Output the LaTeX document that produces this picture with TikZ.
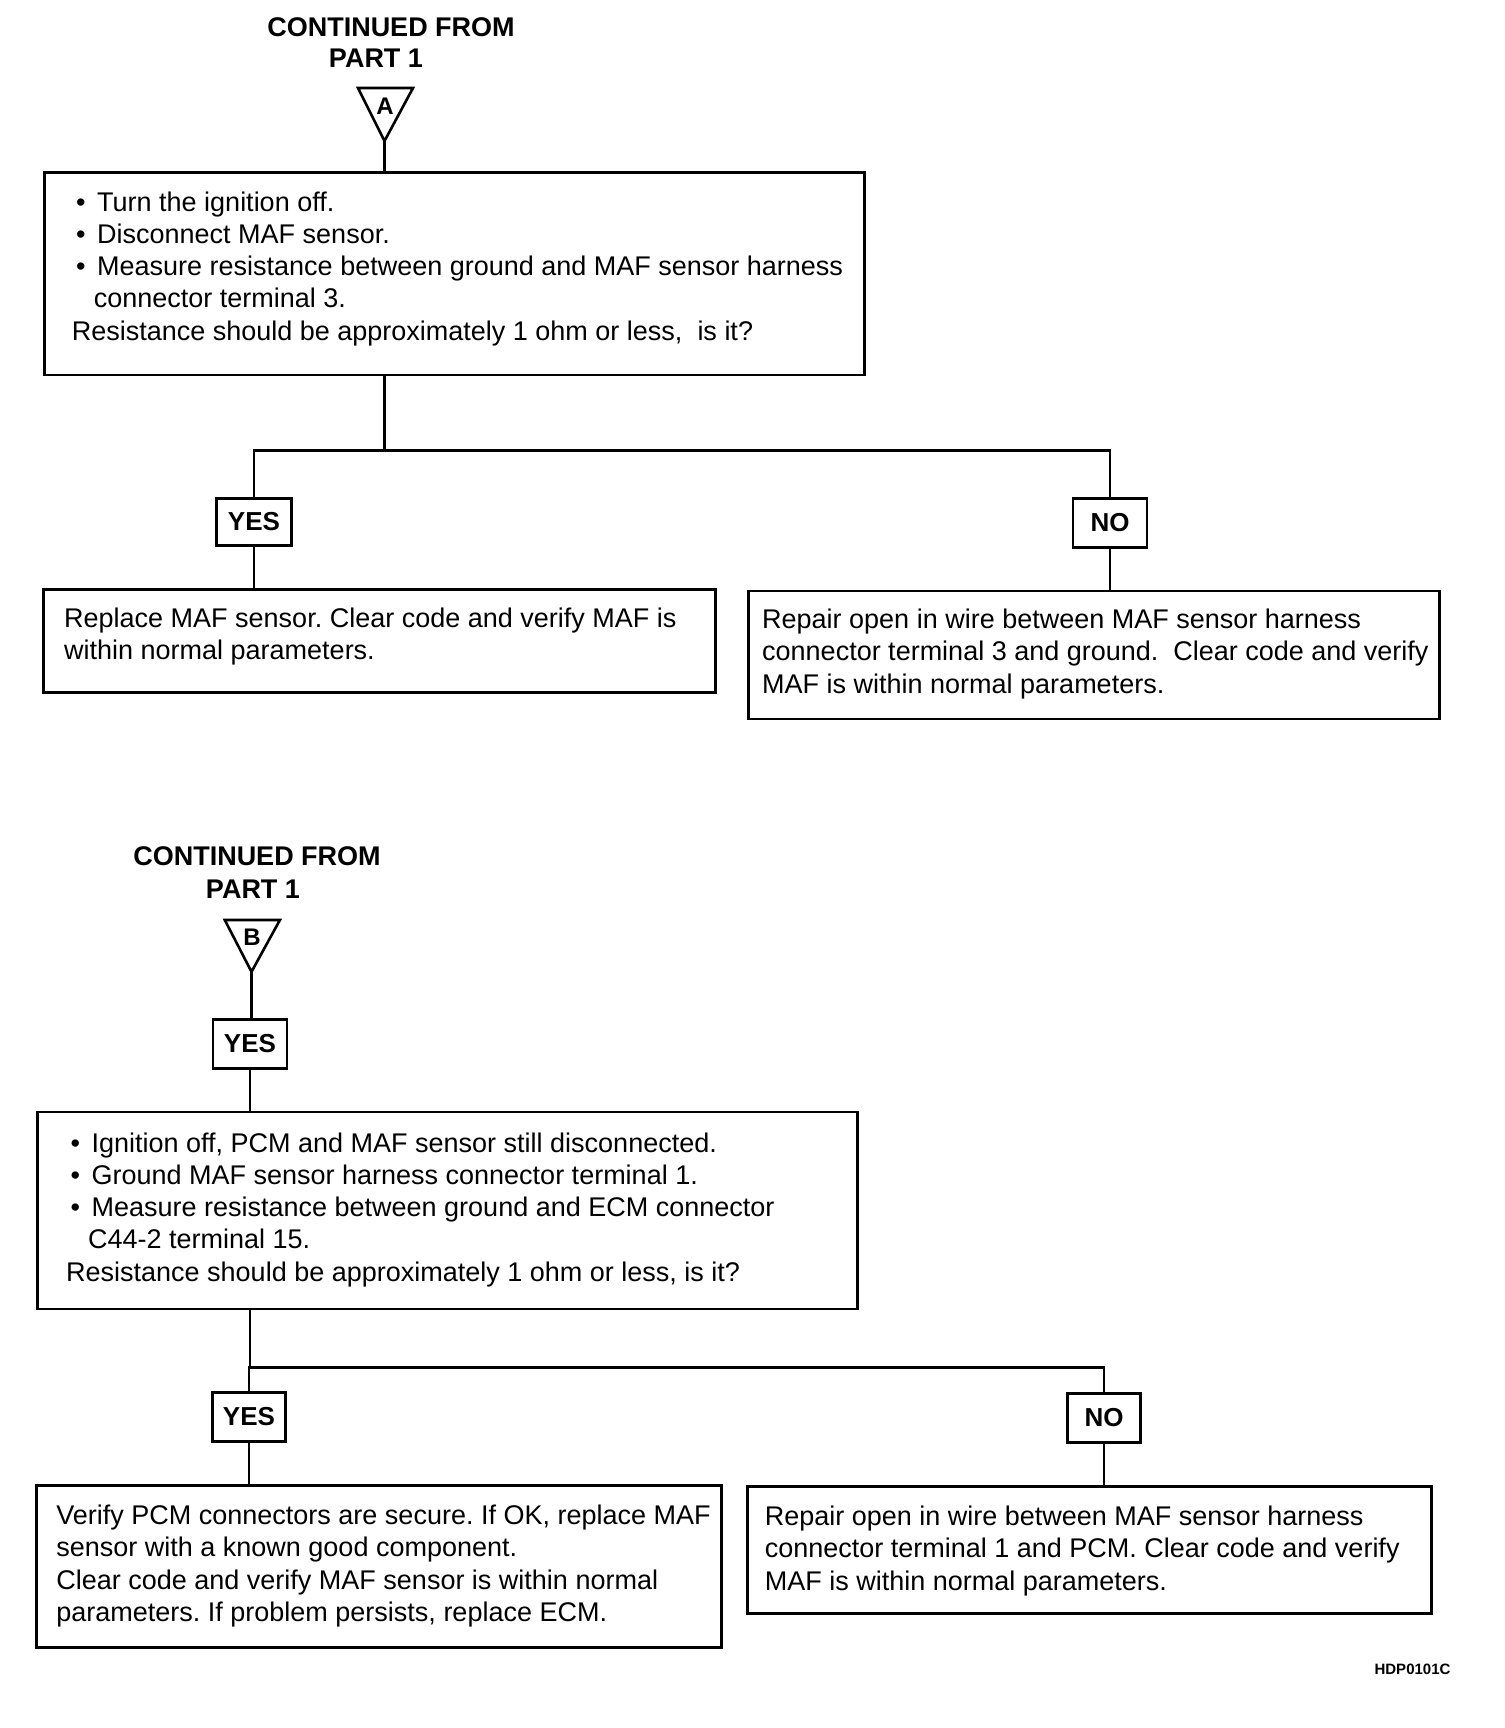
\documentclass[tikz,border=0pt]{standalone}
\usepackage{fontspec}
\setmainfont{Liberation Sans}
\frenchspacing
\begin{document}
\begin{tikzpicture}[x=1pt,y=-1pt,
  box/.style={draw,line width=2.8pt,inner sep=0pt,anchor=north west},
  txt/.style={anchor=north west,inner sep=0pt,align=left,font=\fontsize{27}{32.2}\selectfont},
  ttl/.style={inner sep=0pt,font=\bfseries\fontsize{27}{30}\selectfont},
  yn/.style={draw,line width=2.8pt,inner sep=0pt,font=\bfseries\fontsize{26}{30}\selectfont},
  tri/.style={line width=2.6pt,line join=miter},
  trl/.style={inner sep=0pt,font=\bfseries\fontsize{24}{26}\selectfont},
  con/.style={line width=2.4pt}]
\useasboundingbox (0,0) rectangle (1504,1728);
\newcommand{\bl}{\hspace*{4.4pt}\makebox[21pt][l]{\textbullet}}
\newcommand{\cl}{\hspace*{22pt}}

% ---------- Part A ----------
\node[ttl] (tA1) at (391,27.5) {CONTINUED FROM};
\node[ttl] (tA2) at (376,58.4) {PART 1};
\draw[tri] (358,88) -- (413,88) -- (384.5,141) -- cycle;
\coordinate (apexA) at (384.5,141);
\node[trl] (lA) at (385,106) {A};

\node[box,minimum width=820pt,minimum height=202.5pt] (b1) at (43,171) {};
\node[txt] (t1) at (71.6,191.6) {\bl Turn the ignition off.\\
\bl Disconnect MAF sensor.\\
\bl Measure resistance between ground and MAF sensor harness\\
\cl connector terminal 3.\\
Resistance should be approximately 1 ohm or less,\ \ is it?};

\draw[con] (apexA) -- (apexA |- b1.north);
\coordinate (jA) at (384.5,450.6);
\node[yn,minimum width=75pt,minimum height=47.5pt] (yA) at (254,522) {YES};
\node[yn,minimum width=74pt,minimum height=48.5pt] (nA) at (1110,523) {NO};
\draw[con] (jA |- b1.south) -- (jA);
\draw[con] (yA.north) -- (yA.north |- jA) -- (nA.north |- jA) -- (nA.north);

\node[box,minimum width=672pt,minimum height=102.4pt] (b2) at (41.9,588.4) {};
\node[txt] (t2) at (64,608) {Replace MAF sensor. Clear code and verify MAF is\\
within normal parameters.};
\node[box,minimum width=691pt,minimum height=128pt] (b3) at (747,589.5) {};
\node[txt] (t3) at (762,609) {Repair open in wire between MAF sensor harness\\
connector terminal 3 and ground.\ \ Clear code and verify\\
MAF is within normal parameters.};
\draw[con] (yA.south) -- (yA.south |- b2.north);
\draw[con] (nA.south) -- (nA.south |- b3.north);

% ---------- Part B ----------
\node[ttl] (tB1) at (257,856) {CONTINUED FROM};
\node[ttl] (tB2) at (253,889) {PART 1};
\draw[tri] (224.8,920) -- (279.9,920) -- (251.5,971.8) -- cycle;
\coordinate (apexB) at (251.5,971.8);
\node[trl] (lB) at (252,937.5) {B};

\node[yn,minimum width=74pt,minimum height=49.5pt] (yB) at (250,1044) {YES};
\draw[con] (apexB) -- (apexB |- yB.north);

\node[box,minimum width=819.6pt,minimum height=197pt] (b4) at (36.4,1110.6) {};
\node[txt] (t4) at (66,1132.6) {\bl Ignition off, PCM and MAF sensor still disconnected.\\
\bl Ground MAF sensor harness connector terminal 1.\\
\bl Measure resistance between ground and ECM connector\\
\cl C44-2 terminal 15.\\
Resistance should be approximately 1 ohm or less, is it?};
\draw[con] (yB.south) -- (yB.south |- b4.north);

\coordinate (jB) at (250,1367.3);
\node[yn,minimum width=73pt,minimum height=48.5pt] (yC) at (249,1417) {YES};
\node[yn,minimum width=73pt,minimum height=48.5pt] (nC) at (1104,1418) {NO};
\draw[con] (jB |- b4.south) -- (jB);
\draw[con] (yC.north) -- (yC.north |- jB) -- (nC.north |- jB) -- (nC.north);

\node[box,minimum width=685pt,minimum height=162pt] (b5) at (35.3,1484) {};
\node[txt] (t5) at (56.2,1505) {Verify PCM connectors are secure. If OK, replace MAF\\
sensor with a known good component.\\
Clear code and verify MAF sensor is within normal\\
parameters. If problem persists, replace ECM.};
\node[box,minimum width=684pt,minimum height=127pt] (b6) at (746,1485) {};
\node[txt] (t6) at (764.6,1506) {Repair open in wire between MAF sensor harness\\
connector terminal 1 and PCM. Clear code and verify\\
MAF is within normal parameters.};
\draw[con] (yC.south) -- (yC.south |- b5.north);
\draw[con] (nC.south) -- (nC.south |- b6.north);

\node[inner sep=0pt,font=\bfseries\fontsize{15}{17}\selectfont] (code) at (1412.5,1669) {HDP0101C};
\end{tikzpicture}
\end{document}
